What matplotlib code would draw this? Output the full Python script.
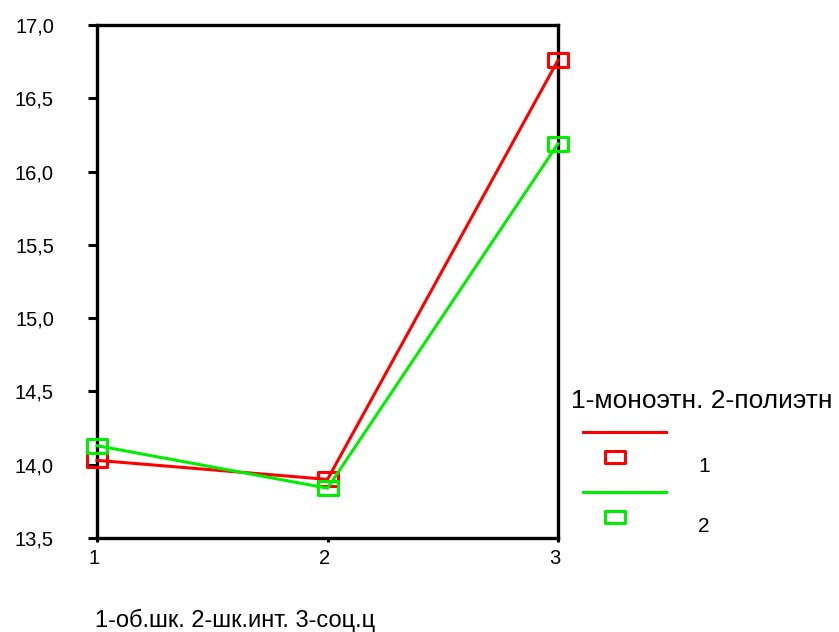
import numpy as np
import matplotlib
matplotlib.use("Agg")
import matplotlib.pyplot as plt
import matplotlib.transforms as mtransforms
from matplotlib.lines import Line2D
from matplotlib.path import Path
from matplotlib.ticker import FuncFormatter

plt.rcParams['font.family'] = ['Liberation Sans', 'DejaVu Sans']

# data
groups = [1, 2, 3]
series_names = ['1', '2']
mono = [14.03, 13.90, 16.76]
poly = [14.13, 13.84, 16.19]
colors = ['#ff0000', '#00ee00']
x_title = '1-об.шк. 2-шк.инт. 3-соц.ц'
legend_title = '1-моноэтн. 2-полиэтн'

# flat hollow rectangle marker
rect = Path([(-1.6, -1), (1.6, -1), (1.6, 1), (-1.6, 1), (-1.6, -1)],
            [Path.MOVETO, Path.LINETO, Path.LINETO, Path.LINETO, Path.CLOSEPOLY])

fig = plt.figure(figsize=(8.39, 6.32), dpi=100)
ax = fig.add_axes([0.1156, 0.1487, 0.5495, 0.8117])

for vals, c in zip([mono, poly], colors):
    ax.plot(groups, vals, color=c, lw=2.2, marker=rect, ms=15,
            mfc='none', mec=c, mew=2.2, clip_on=False, zorder=3)

ax.set_xlim(1, 3)
ax.set_ylim(13.5, 17.0)
ax.set_xticks(groups)
ax.set_yticks(np.arange(13.5, 17.01, 0.5))
ax.yaxis.set_major_formatter(FuncFormatter(lambda v, p: f'{v:.1f}'.replace('.', ',')))
for s in ax.spines.values():
    s.set_linewidth(2.4)
ax.tick_params(axis='y', direction='out', length=6.5, width=2.2, labelsize=14.5, pad=24.5)
ax.tick_params(axis='x', direction='out', length=3, width=2.2, labelsize=14.5, pad=5)
shift = mtransforms.ScaledTranslation(-3 / 100, 0, fig.dpi_scale_trans)
for lab in ax.get_xticklabels():
    lab.set_transform(lab.get_transform() + shift)

fig.text(95 / 839, 1 - 620 / 632, x_title, fontsize=17, ha='left', va='center')

# legend drawn by hand on the figure
fig.text(571 / 839, 1 - 401 / 632, legend_title, fontsize=19, ha='left', va='center')
rows_y = [432, 492]
for name, c, yl in zip(series_names, colors, rows_y):
    fy = 1 - yl / 632
    fig.add_artist(Line2D([583 / 839, 666 / 839], [fy, fy], color=c, lw=2.2,
                          transform=fig.transFigure))
    my = 1 - (yl + 25) / 632
    fig.add_artist(Line2D([615 / 839], [my], color=c, marker=rect, ms=14, mfc='none',
                          mec=c, mew=2.2, ls='none', transform=fig.transFigure))
    fig.text(698 / 839, 1 - (yl + 34) / 632, name, fontsize=15, ha='left', va='center')

fig.savefig('out.png', dpi=100)
